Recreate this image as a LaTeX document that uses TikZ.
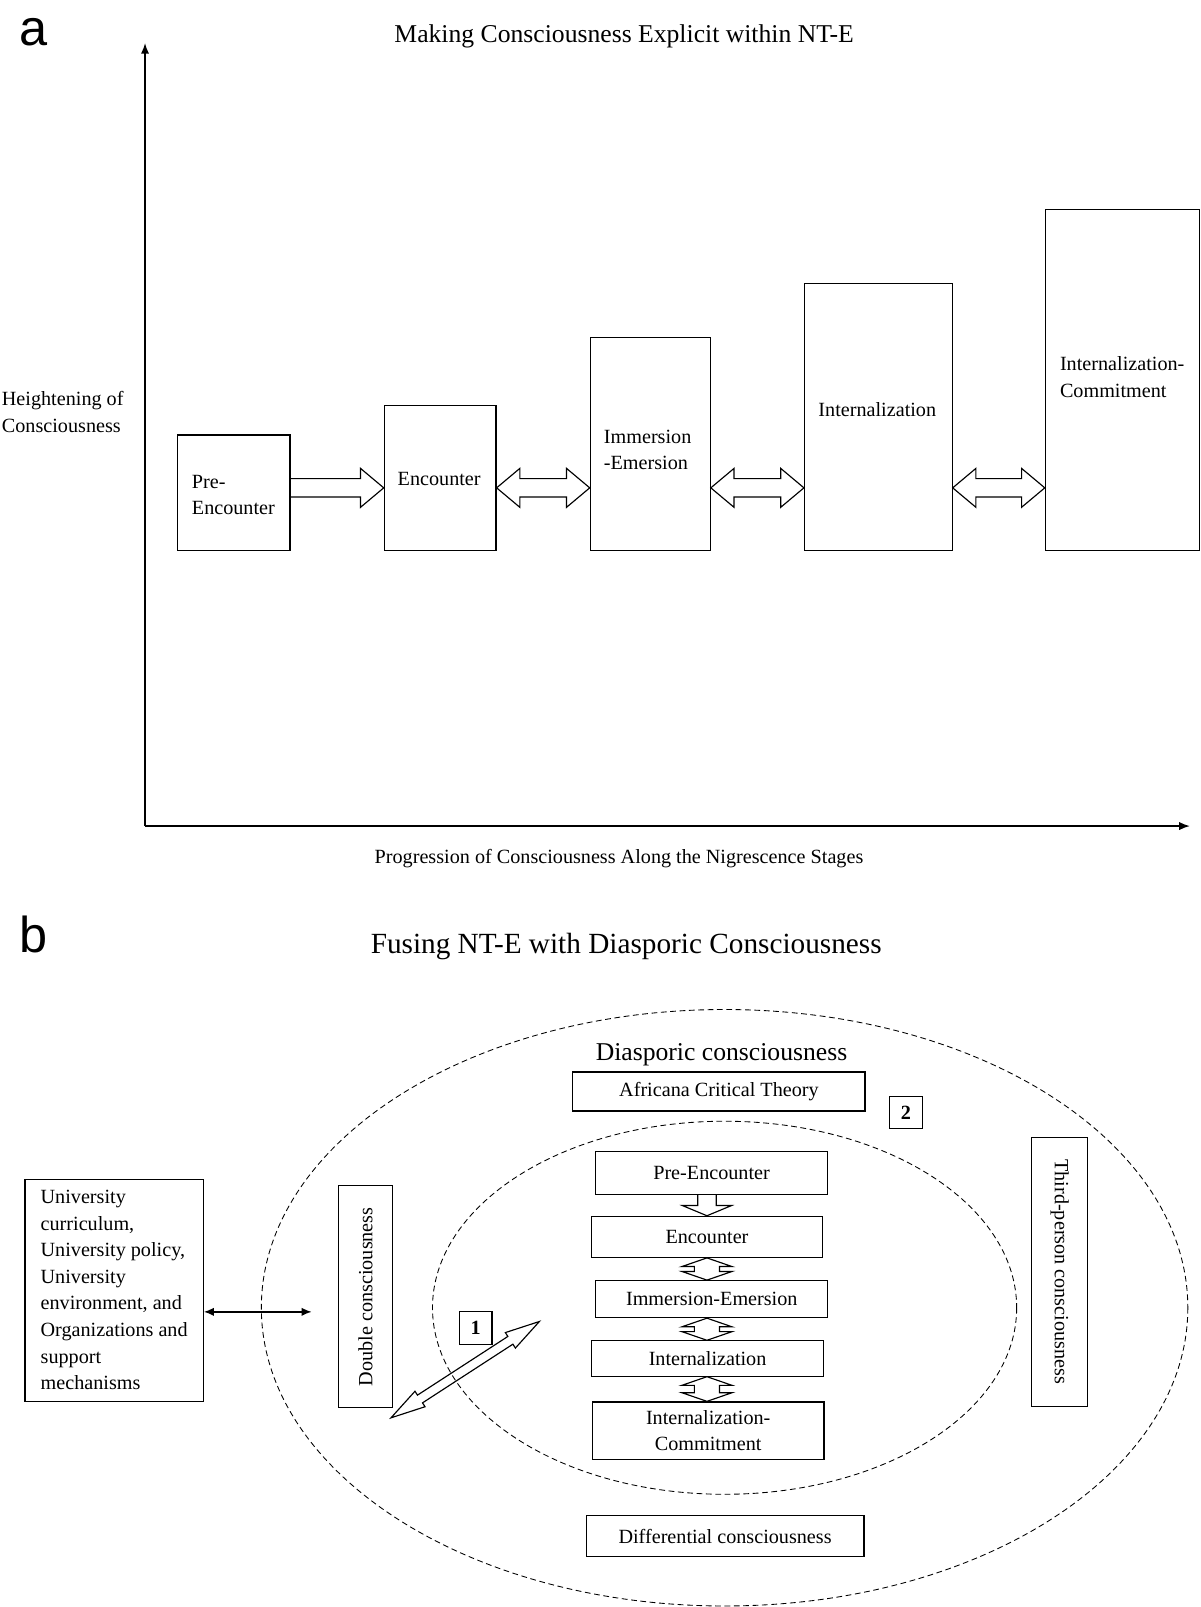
\documentclass[tikz,border=0pt]{standalone}
\usepackage{fontspec}
\setmainfont{Liberation Serif}
\newfontfamily\panelfont{Liberation Sans}
\usetikzlibrary{arrows.meta,calc}
\tikzset{fat/.style={draw, line width=0.8pt, line join=miter}}

\newcommand{\fatone}[5]{%
  \coordinate (fb) at ($(#2)!#3!(#1)$);
  \draw[fat] ($(#1)!#5!90:(#2)$) -- ($(fb)!#5!-90:(#1)$) -- ($(fb)!#4!-90:(#1)$)
    -- (#2) -- ($(fb)!#4!90:(#1)$) -- ($(fb)!#5!90:(#1)$) -- ($(#1)!#5!-90:(#2)$);}
\newcommand{\fattwo}[5]{%
  \coordinate (fa) at ($(#1)!#3!(#2)$);
  \coordinate (fb) at ($(#2)!#3!(#1)$);
  \draw[fat] (#1) -- ($(fa)!#4!90:(#2)$) -- ($(fa)!#5!90:(#2)$)
    -- ($(fb)!#5!-90:(#1)$) -- ($(fb)!#4!-90:(#1)$) -- (#2)
    -- ($(fb)!#4!90:(#1)$) -- ($(fb)!#5!90:(#1)$)
    -- ($(fa)!#5!-90:(#2)$) -- ($(fa)!#4!-90:(#2)$) -- cycle;}

\begin{document}
\begin{tikzpicture}[x=0.025cm, y=-0.025cm,
            stage/.style={draw, line width=0.8pt, inner sep=0pt},
            txt/.style={font=\fontsize{14}{18.4}\selectfont, inner sep=0pt},
            axis/.style={line width=1pt, -{Latex[length=2.6mm,width=2mm]}},
            link/.style={line width=0.9pt, {Latex[length=2.4mm,width=2mm]}-{Latex[length=2.4mm,width=2mm]}},
            ring/.style={line width=0.6pt, dash pattern=on 4pt off 2.5pt}
            ]
            \useasboundingbox (0,0) rectangle (1171,1568);

            \node[inner sep=0pt, font=\panelfont\fontsize{35}{35}\selectfont] (la) at (32.5,31) {a};
            \node[txt, font=\fontsize{17.8}{22}\selectfont] (atitle) at (609,35) {Making Consciousness Explicit within NT-E};

            \coordinate (origin) at (141.5,806);
            \coordinate (ytop) at (141.5,42);
            \coordinate (xend) at (1161,806);
            \draw[axis] (origin) -- (ytop);
            \draw[axis] (origin) -- (xend);
            \node[txt, align=left, anchor=west] (ylab) at (1.6,402) {Heightening of\\Consciousness};
            \node[txt] (xlab) at (604,838) {Progression of Consciousness Along the Nigrescence Stages};

            \node[stage, minimum width=2.75cm, minimum height=2.825cm, anchor=south] (pre) at (228,538) {};
            \node[stage, minimum width=2.725cm, minimum height=3.55cm, anchor=south] (enc) at (429.5,538) {};
            \node[stage, minimum width=2.925cm, minimum height=5.2cm, anchor=south] (imm) at (634.5,538) {};
            \node[stage, minimum width=3.6cm, minimum height=6.525cm, anchor=south] (int) at (857,538) {};
            \node[stage, minimum width=3.75cm, minimum height=8.325cm, anchor=south] (ic) at (1095,538) {};
            \node[txt, align=left, anchor=west] (pre-t) at (187,483) {Pre-\\Encounter};
            \node[txt] (enc-t) at (428.5,467) {Encounter};
            \node[txt, align=left, anchor=west] (imm-t) at (589,439) {Immersion\\-Emersion};
            \node[txt] (int-t) at (856,400) {Internalization};
            \node[txt, align=left, anchor=west] (ic-t) at (1034,368) {Internalization-\\Commitment};

            \coordinate (arow) at (0,476);
            \coordinate (a1) at (pre.east |- arow);
            \coordinate (a2) at (enc.west |- arow);
            \coordinate (a3) at (enc.east |- arow);
            \coordinate (a4) at (imm.west |- arow);
            \coordinate (a5) at (imm.east |- arow);
            \coordinate (a6) at (int.west |- arow);
            \coordinate (a7) at (int.east |- arow);
            \coordinate (a8) at (ic.west |- arow);
            \fatone{a1}{a2}{16.1pt}{13.5pt}{6.4pt}
            \fattwo{a3}{a4}{16.1pt}{13.5pt}{6.4pt}
            \fattwo{a5}{a6}{16.1pt}{13.5pt}{6.4pt}
            \fattwo{a7}{a8}{16.1pt}{13.5pt}{6.4pt}

            \node[inner sep=0pt, font=\panelfont\fontsize{35}{35}\selectfont] (lb) at (32.5,911.5) {b};
            \node[txt, font=\fontsize{20.3}{24}\selectfont] (btitle) at (611,924) {Fusing NT-E with Diasporic Consciousness};

            \draw[ring] (707,1276) ellipse [x radius=452, y radius=291];
            \draw[ring] (707,1276) ellipse [x radius=285, y radius=182];

            \node[txt, font=\fontsize{17.8}{22}\selectfont] (diasp) at (704,1029) {Diasporic consciousness};
            \node[stage, txt, minimum width=7.125cm, minimum height=0.95cm] (act) at (701.5,1065) {Africana Critical Theory};
            \node[stage, txt, font=\fontsize{14}{18.4}\selectfont\bfseries, minimum width=0.8cm, minimum height=0.775cm] (two) at (884,1085.5) {2};
            \node[stage, txt, minimum width=5.65cm, minimum height=1.05cm] (preb) at (694.3,1144.2) {Pre-Encounter};
            \node[stage, txt, minimum width=5.65cm, minimum height=1cm] (encb) at (689.8,1206.8) {Encounter};
            \node[stage, txt, minimum width=5.66cm, minimum height=0.9cm] (immb) at (694.5,1267.6) {Immersion-Emersion};
            \node[stage, txt, minimum width=5.65cm, minimum height=0.86cm] (intb) at (690.4,1325.5) {Internalization};
            \node[stage, txt, align=center, minimum width=5.65cm, minimum height=1.4cm] (icb) at (691,1395.9) {Internalization-\\Commitment};
            \node[stage, txt, rotate=90, minimum width=5.415cm, minimum height=1.325cm] (dbl) at (356.7,1265.3) {Double consciousness};
            \node[stage, txt, rotate=-90, minimum width=6.555cm, minimum height=1.37cm] (third) at (1034,1240.9) {Third-person consciousness};
            \node[stage, txt, minimum width=6.775cm, minimum height=1cm] (diff) at (707.5,1499) {Differential consciousness};
            \node[stage, txt, font=\fontsize{14}{18.4}\selectfont\bfseries, minimum width=0.8cm, minimum height=0.8cm] (one) at (464,1295.5) {1};
            \node[stage, txt, align=left, minimum width=4.35cm, minimum height=5.415cm] (univ) at (111.4,1258.8) {University\\curriculum,\\University policy,\\University\\environment, and\\Organizations and\\support\\mechanisms};

            \coordinate (dcend) at (304,1280);
            \draw[link] (univ.east |- dcend) -- (dcend);

            \coordinate (b1) at (preb.south -| encb.center);
            \coordinate (b2) at (encb.north);
            \coordinate (b3) at (encb.south);
            \coordinate (b4) at (immb.north -| encb.center);
            \coordinate (b5) at (immb.south -| encb.center);
            \coordinate (b6) at (intb.north -| encb.center);
            \coordinate (b7) at (intb.south -| encb.center);
            \coordinate (b8) at (icb.north -| encb.center);
            \fatone{b1}{b2}{7.1pt}{17.1pt}{6.4pt}
            \fattwo{b3}{b4}{6pt}{17.4pt}{8.75pt}
            \fattwo{b5}{b6}{6pt}{17.4pt}{8.75pt}
            \fattwo{b7}{b8}{6pt}{17.4pt}{8.75pt}

            \coordinate (d1) at (381.5,1383.4);
            \coordinate (d2) at (526.3,1289.4);
            \fattwo{d1}{d2}{24pt}{6.4pt}{3.2pt}
\end{tikzpicture}
\end{document}
